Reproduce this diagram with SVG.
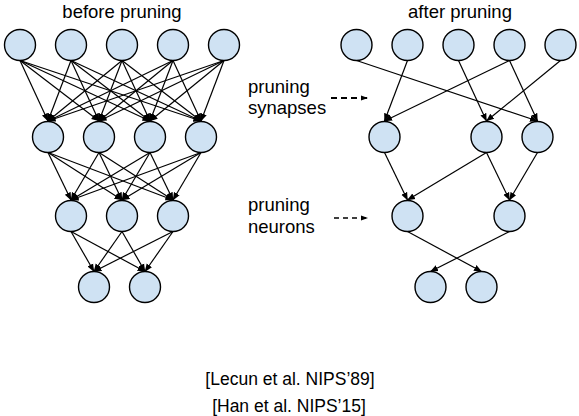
<svg xmlns="http://www.w3.org/2000/svg" width="579" height="416" viewBox="0 0 579 416">
<style>
.n{fill:#cfe2f3;stroke:#000;stroke-width:1.4}
.e line{stroke:#000;stroke-width:1.2;marker-end:url(#ah)}
.t{font-family:"Liberation Sans",Arial,sans-serif;font-size:18.5px;fill:#000}
.c{font-family:"Liberation Sans",Arial,sans-serif;font-size:17.5px;fill:#000;text-anchor:middle}
.d{stroke:#000;fill:none}
</style>
<defs>
<marker id="ah" markerUnits="userSpaceOnUse" markerWidth="8" markerHeight="8" viewBox="0 0 8 8" refX="7.5" refY="4" orient="auto">
<path d="M0,0.8 L8,4 L0,7.2 Z" fill="#000"/>
</marker>
<marker id="ad" markerUnits="userSpaceOnUse" markerWidth="7" markerHeight="6" viewBox="0 0 7 6" refX="7" refY="3" orient="auto">
<path d="M0,0.5 L7,3 L0,5.5 Z" fill="#000"/>
</marker>
</defs>
<text class="t" x="122" y="18" text-anchor="middle">before pruning</text>
<text class="t" x="460" y="18" text-anchor="middle">after pruning</text>
<text class="t" x="248" y="93">pruning</text>
<text class="t" x="248" y="114">synapses</text>
<text class="t" x="248" y="211">pruning</text>
<text class="t" x="248" y="233">neurons</text>
<text class="c" x="290" y="385">[Lecun et al. NIPS’89]</text>
<text class="c" x="289" y="412">[Han et al. NIPS’15]</text>
<g id="connectors">
<g class="e">
<line x1="20" y1="60.5" x2="48" y2="121"/><line x1="20" y1="60.5" x2="99" y2="121"/><line x1="20" y1="60.5" x2="150" y2="121"/><line x1="20" y1="60.5" x2="201" y2="121"/>
<line x1="71" y1="60.5" x2="48" y2="121"/><line x1="71" y1="60.5" x2="99" y2="121"/><line x1="71" y1="60.5" x2="150" y2="121"/><line x1="71" y1="60.5" x2="201" y2="121"/>
<line x1="122" y1="60.5" x2="48" y2="121"/><line x1="122" y1="60.5" x2="99" y2="121"/><line x1="122" y1="60.5" x2="150" y2="121"/><line x1="122" y1="60.5" x2="201" y2="121"/>
<line x1="173" y1="60.5" x2="48" y2="121"/><line x1="173" y1="60.5" x2="99" y2="121"/><line x1="173" y1="60.5" x2="150" y2="121"/><line x1="173" y1="60.5" x2="201" y2="121"/>
<line x1="224" y1="60.5" x2="48" y2="121"/><line x1="224" y1="60.5" x2="99" y2="121"/><line x1="224" y1="60.5" x2="150" y2="121"/><line x1="224" y1="60.5" x2="201" y2="121"/>
<line x1="48" y1="152.5" x2="71" y2="200"/><line x1="48" y1="152.5" x2="122" y2="200"/><line x1="48" y1="152.5" x2="173" y2="200"/>
<line x1="99" y1="152.5" x2="71" y2="200"/><line x1="99" y1="152.5" x2="122" y2="200"/><line x1="99" y1="152.5" x2="173" y2="200"/>
<line x1="150" y1="152.5" x2="71" y2="200"/><line x1="150" y1="152.5" x2="122" y2="200"/><line x1="150" y1="152.5" x2="173" y2="200"/>
<line x1="201" y1="152.5" x2="71" y2="200"/><line x1="201" y1="152.5" x2="122" y2="200"/><line x1="201" y1="152.5" x2="173" y2="200"/>
<line x1="71" y1="231.5" x2="94" y2="271.5"/><line x1="71" y1="231.5" x2="145" y2="271.5"/>
<line x1="122" y1="231.5" x2="94" y2="271.5"/><line x1="122" y1="231.5" x2="145" y2="271.5"/>
<line x1="173" y1="231.5" x2="94" y2="271.5"/><line x1="173" y1="231.5" x2="145" y2="271.5"/>
<line x1="356.5" y1="60.5" x2="537.5" y2="121"/>
<line x1="407.5" y1="60.5" x2="384.5" y2="121"/>
<line x1="458.5" y1="60.5" x2="486.5" y2="121"/>
<line x1="509.5" y1="60.5" x2="384.5" y2="121"/>
<line x1="509.5" y1="60.5" x2="537.5" y2="121"/>
<line x1="560.5" y1="60.5" x2="486.5" y2="121"/>
<line x1="384.5" y1="152.5" x2="407.5" y2="200"/>
<line x1="486.5" y1="152.5" x2="407.5" y2="200"/>
<line x1="486.5" y1="152.5" x2="509.5" y2="200"/>
<line x1="537.5" y1="152.5" x2="509.5" y2="200"/>
<line x1="407.5" y1="231.5" x2="481.5" y2="271.5"/>
<line x1="509.5" y1="231.5" x2="430.5" y2="271.5"/>
</g>
<line class="d" x1="331" y1="98" x2="368" y2="98" stroke-width="1.8" stroke-dasharray="6 4" marker-end="url(#ad)"/>
<line class="d" x1="334" y1="218" x2="368" y2="218" stroke-width="1.4" stroke-dasharray="5 4" marker-end="url(#ad)"/>
</g>
<g id="before">
<circle id="b1a" class="n" cx="20" cy="45" r="15.5"/><circle id="b1b" class="n" cx="71" cy="45" r="15.5"/><circle id="b1c" class="n" cx="122" cy="45" r="15.5"/><circle id="b1d" class="n" cx="173" cy="45" r="15.5"/><circle id="b1e" class="n" cx="224" cy="45" r="15.5"/>
<circle id="b2a" class="n" cx="48" cy="137" r="15.5"/><circle id="b2b" class="n" cx="99" cy="137" r="15.5"/><circle id="b2c" class="n" cx="150" cy="137" r="15.5"/><circle id="b2d" class="n" cx="201" cy="137" r="15.5"/>
<circle id="b3a" class="n" cx="71" cy="216" r="15.5"/><circle id="b3b" class="n" cx="122" cy="216" r="15.5"/><circle id="b3c" class="n" cx="173" cy="216" r="15.5"/>
<circle id="b4a" class="n" cx="94" cy="287" r="15.5"/><circle id="b4b" class="n" cx="145" cy="287" r="15.5"/>
</g>
<g id="after">
<circle id="a1a" class="n" cx="356.5" cy="45" r="15.5"/><circle id="a1b" class="n" cx="407.5" cy="45" r="15.5"/><circle id="a1c" class="n" cx="458.5" cy="45" r="15.5"/><circle id="a1d" class="n" cx="509.5" cy="45" r="15.5"/><circle id="a1e" class="n" cx="560.5" cy="45" r="15.5"/>
<circle id="a2a" class="n" cx="384.5" cy="137" r="15.5"/><circle id="a2c" class="n" cx="486.5" cy="137" r="15.5"/><circle id="a2d" class="n" cx="537.5" cy="137" r="15.5"/>
<circle id="a3a" class="n" cx="407.5" cy="216" r="15.5"/><circle id="a3c" class="n" cx="509.5" cy="216" r="15.5"/>
<circle id="a4a" class="n" cx="430.5" cy="287" r="15.5"/><circle id="a4b" class="n" cx="481.5" cy="287" r="15.5"/>
</g>
</svg>
